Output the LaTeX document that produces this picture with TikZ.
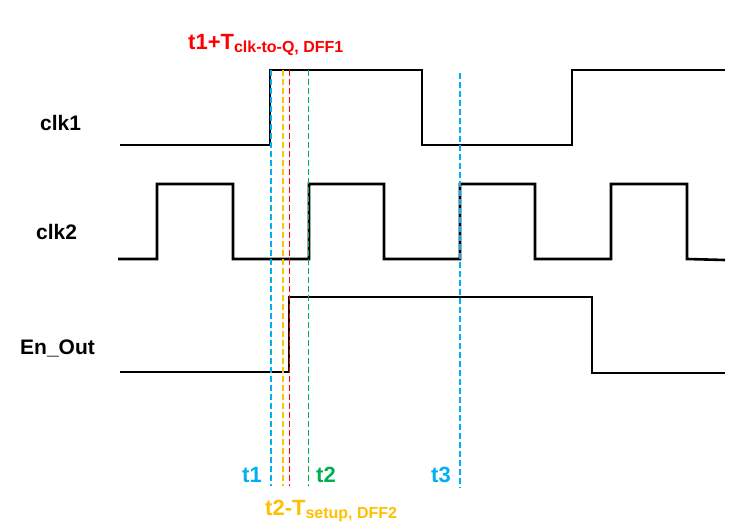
\documentclass[tikz,border=0pt]{standalone}
\usepackage{fontspec}
\setmainfont{Liberation Sans}
\definecolor{cyanx}{HTML}{00B0F0}
\definecolor{greenx}{HTML}{00B050}
\definecolor{yellowx}{HTML}{FFC000}
\definecolor{redx}{HTML}{FF0000}
\begin{document}
\begin{tikzpicture}[x=1pt,y=-1pt,
  wave/.style={line width=2.6pt,black,line join=miter},
  marker/.style={line width=1.1pt,dash pattern=on 6pt off 3pt},
  sig/.style={font=\bfseries\fontsize{21}{25}\selectfont,anchor=base west,inner sep=0pt},
  tlab/.style={font=\bfseries\fontsize{22}{26}\selectfont,anchor=base west,inner sep=0pt}]
\useasboundingbox (0,0) rectangle (753,525);
% signal names
\node[sig] (nclk1) at (40,130) {clk1};
\node[sig] (nclk2) at (36,239) {clk2};
\node[sig] (nen) at (20,354) {En\_Out};
% waveforms
\draw[wave] (120,145) -- (270,145) -- (270,70) -- (422,70) -- (422,145) -- (572,145) -- (572,70) -- (725,70);
\draw[wave] (118,259) -- (157,259) -- (157,184) -- (233,184) -- (233,259) -- (309,259) -- (309,184) -- (384,184) -- (384,259) -- (460,259) -- (460,184) -- (535,184) -- (535,259) -- (611,259) -- (611,184) -- (687,184) -- (687,259) -- (725,260);
\draw[wave] (120,372) -- (289,372) -- (289,297) -- (592,297) -- (592,373) -- (725,373);
% dashed time markers
\draw[marker,cyanx] (271,70) -- (271,486);
\draw[marker,yellowx] (283,70) -- (283,486);
\draw[marker,redx] (289.5,70) -- (289.5,486);
\draw[marker,greenx] (308.5,70) -- (308.5,486);
\draw[marker,cyanx] (460,73) -- (460,488);
% time labels
\node[tlab,redx] (lq) at (188,49) {t1+T\raisebox{-3pt}{\fontsize{16}{18}\selectfont clk-to-Q, DFF1}};
\node[tlab,cyanx] (l1) at (242,482) {t1};
\node[tlab,greenx] (l2) at (316,482) {t2};
\node[tlab,cyanx] (l3) at (431,482) {t3};
\node[tlab,yellowx] (ls) at (265,515) {t2-T\raisebox{-3.5pt}{\fontsize{16}{18}\selectfont setup, DFF2}};
\end{tikzpicture}
\end{document}
